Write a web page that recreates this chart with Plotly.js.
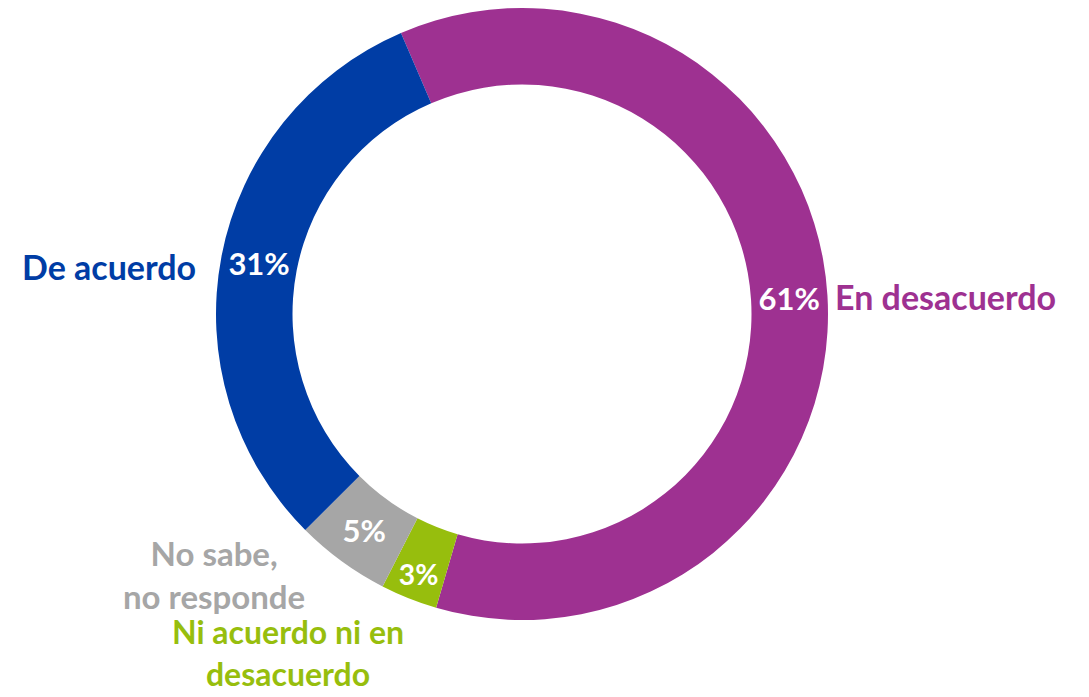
<!DOCTYPE html>
<html>
<head>
<meta charset="utf-8">
<script src="https://cdn.plot.ly/plotly-3.0.1.min.js"></script>
<style>html,body{margin:0;padding:0;background:#fff;}#chart{width:1089px;height:697px;}</style>
</head>
<body>
<div id="chart"></div>
<script>
const categories = ["En desacuerdo", "Ni acuerdo ni en desacuerdo", "No sabe, no responde", "De acuerdo"];
const values = [61, 3, 5, 31];
const percentLabels = ["61%", "3%", "5%", "31%"];
const displayLabels = ["En desacuerdo", "Ni acuerdo ni en<br>desacuerdo", "No sabe,<br>no responde", "De acuerdo"];
const colors = ["#9E3191", "#97BE0D", "#A6A6A6", "#003DA5"];

const W = 1089, H = 697;
const font = "Lato, 'Open Sans', sans-serif";

const trace = {
  type: "pie",
  values: values,
  labels: categories,
  text: percentLabels,
  textinfo: "text",
  textposition: "inside",
  insidetextorientation: "horizontal",
  hole: 0.75,
  sort: false,
  direction: "clockwise",
  rotation: -23.3,
  marker: {colors: colors, line: {width: 0}},
  textfont: {family: font, size: 31, color: "#ffffff", weight: "bold"},
  domain: {x: [216 / W, 828 / W], y: [(H - 620) / H, (H - 8) / H]},
  showlegend: false,
  hoverinfo: "label+percent"
};

const labelPos = [
  {x: 833, y: 297, xanchor: "left", size: 34},
  {x: 288, y: 652, xanchor: "center", size: 32},
  {x: 214, y: 574, xanchor: "center", size: 33},
  {x: 198, y: 266, xanchor: "right", size: 34}
];

const annotations = displayLabels.map((t, i) => ({
  text: "<b>" + t + "</b>",
  xref: "paper", yref: "paper",
  x: labelPos[i].x / W, y: 1 - labelPos[i].y / H,
  xanchor: labelPos[i].xanchor, yanchor: "middle",
  align: "center",
  showarrow: false,
  font: {family: font, size: labelPos[i].size, color: colors[i]}
}));

Plotly.newPlot("chart", [trace], {
  width: W, height: H,
  margin: {l: 0, r: 0, t: 0, b: 0},
  paper_bgcolor: "#ffffff",
  annotations: annotations
}, {displayModeBar: false, staticPlot: true});
</script>
</body>
</html>
